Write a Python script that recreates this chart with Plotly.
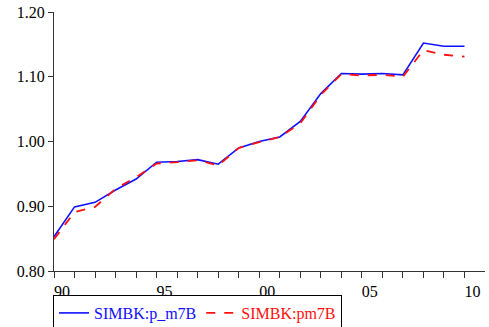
import plotly.graph_objects as go

years = list(range(1990, 2011))
p_m7B = [0.853, 0.899, 0.906, 0.925, 0.942, 0.968, 0.969, 0.972, 0.965, 0.990,
         1.000, 1.007, 1.031, 1.074, 1.105, 1.104, 1.105, 1.103, 1.152, 1.147, 1.147]
pm7B = [0.849, 0.891, 0.899, 0.927, 0.945, 0.966, 0.968, 0.971, 0.963, 0.990,
        0.999, 1.007, 1.028, 1.072, 1.104, 1.102, 1.103, 1.100, 1.141, 1.134, 1.131]
series_names = ["SIMBK:p_m7B", "SIMBK:pm7B"]
xtick_vals = years
xtick_text = [("%02d" % (y % 100)) if y % 5 == 0 else "" for y in years]
ytick_vals = [0.80, 0.90, 1.00, 1.10, 1.20]
ytick_text = ["0.80", "0.90", "1.00", "1.10", "1.20"]

font = "Liberation Serif, Times New Roman, serif"
blue = "#1010ff"
red = "#ff1010"

fig = go.Figure()
fig.add_trace(go.Scatter(x=years, y=p_m7B, mode="lines",
                         name="<span style='color:%s'>%s</span>" % (blue, series_names[0]),
                         line=dict(color=blue, width=1.6)))
fig.add_trace(go.Scatter(x=years, y=pm7B, mode="lines",
                         name="<span style='color:%s'>%s</span>" % (red, series_names[1]),
                         line=dict(color=red, width=1.8, dash="dash")))

fig.update_layout(
    width=489, height=327,
    margin=dict(l=54, r=4, t=12, b=56, autoexpand=False),
    paper_bgcolor="white", plot_bgcolor="white",
    font=dict(family=font, size=16, color="black"),
    showlegend=True,
    legend=dict(orientation="h", xref="container", x=53/489, xanchor="left",
                yref="container", y=(327-295)/327, yanchor="top",
                bordercolor="black", borderwidth=1, itemwidth=30,
                font=dict(family=font, size=16), tracegroupgap=0,
                itemclick=False),
)
fig.update_xaxes(range=[1990, 2011], tickmode="array", tickvals=xtick_vals, ticktext=xtick_text,
                 ticks="outside", ticklen=6, tickcolor="#333", showgrid=False, zeroline=False,
                 showline=True, linecolor="#333", linewidth=1, ticklabelshift=8,
                 tickfont=dict(family=font, size=16))
fig.update_yaxes(range=[0.80, 1.20], tickmode="array", tickvals=ytick_vals, ticktext=ytick_text,
                 ticks="outside", ticklen=5, tickcolor="#333", showgrid=False, zeroline=False,
                 showline=True, linecolor="#333", linewidth=1,
                 tickfont=dict(family=font, size=16))

fig.write_html("out.html")
